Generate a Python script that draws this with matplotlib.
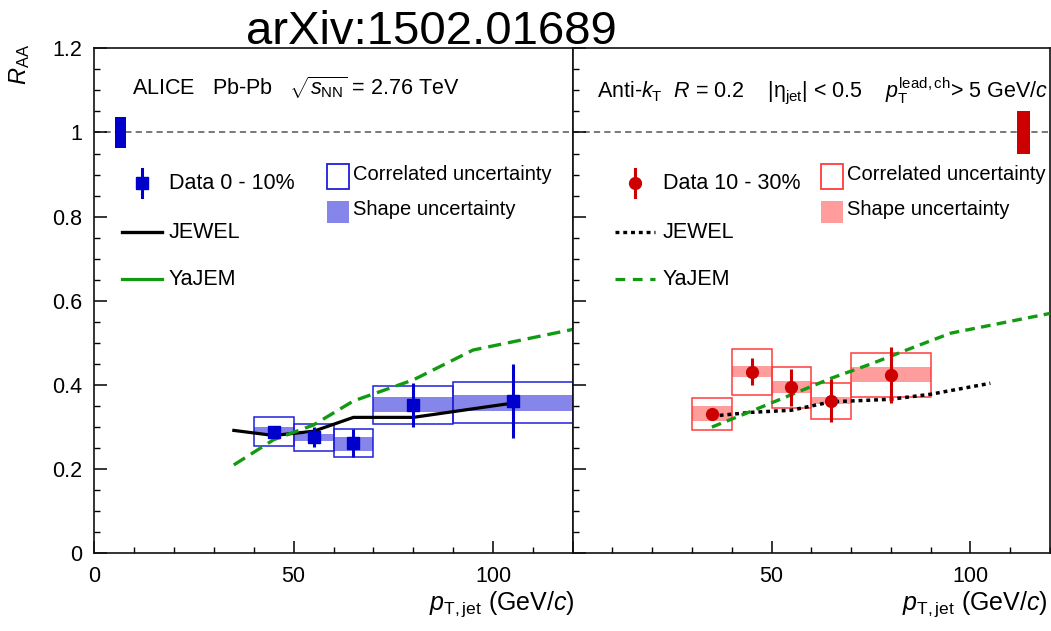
import numpy as np
import matplotlib
matplotlib.use("Agg")
import matplotlib.pyplot as plt
from matplotlib.patches import Rectangle

plt.rcParams['font.family'] = ['Liberation Sans', 'DejaVu Sans']
plt.rcParams['mathtext.fontset'] = 'custom'
plt.rcParams['mathtext.rm'] = 'Liberation Sans'
plt.rcParams['mathtext.it'] = 'Liberation Sans:italic'
plt.rcParams['mathtext.bf'] = 'Liberation Sans:bold'
plt.rcParams['lines.scale_dashes'] = False

# ---------------- data ----------------
# 0-10% centrality
c1_pt = np.array([45, 55, 65, 80, 105])
c1_width = np.array([10, 10, 10, 20, 30])
c1_raa = np.array([0.289, 0.276, 0.262, 0.353, 0.361])
c1_stat = np.array([0.012, 0.024, 0.034, 0.052, 0.088])
c1_corr_lo = np.array([0.254, 0.243, 0.228, 0.307, 0.309])
c1_corr_hi = np.array([0.323, 0.308, 0.296, 0.398, 0.408])
c1_shape_lo = np.array([0.284, 0.268, 0.244, 0.335, 0.339])
c1_shape_hi = np.array([0.300, 0.284, 0.276, 0.371, 0.377])
c1_global = 0.036

jewel1_pt = np.array([35, 45, 55, 65, 80, 105])
jewel1_raa = np.array([0.292, 0.280, 0.290, 0.323, 0.323, 0.357])
yajem1_pt = np.array([35, 45, 55, 65, 80, 95, 120])
yajem1_raa = np.array([0.210, 0.270, 0.305, 0.362, 0.412, 0.483, 0.532])

# 10-30% centrality
c2_pt = np.array([35, 45, 55, 65, 80])
c2_width = np.array([10, 10, 10, 10, 20])
c2_raa = np.array([0.331, 0.432, 0.394, 0.363, 0.424])
c2_stat = np.array([0.008, 0.032, 0.044, 0.052, 0.066])
c2_corr_lo = np.array([0.292, 0.377, 0.345, 0.319, 0.372])
c2_corr_hi = np.array([0.369, 0.485, 0.443, 0.404, 0.477])
c2_shape_lo = np.array([0.314, 0.418, 0.382, 0.355, 0.406])
c2_shape_hi = np.array([0.349, 0.446, 0.409, 0.372, 0.443])
c2_global = 0.051

jewel2_pt = np.array([35, 45, 55, 65, 80, 90, 105])
jewel2_raa = np.array([0.326, 0.335, 0.340, 0.360, 0.366, 0.378, 0.404])
yajem2_pt = np.array([35, 45, 55, 65, 75, 85, 95, 120])
yajem2_raa = np.array([0.300, 0.338, 0.377, 0.416, 0.450, 0.487, 0.523, 0.570])

xticks = [0, 50, 100]
yticks = [0, 0.2, 0.4, 0.6, 0.8, 1.0, 1.2]
ytick_labels = ["0", "0.2", "0.4", "0.6", "0.8", "1", "1.2"]

# ---------------- style ----------------
BLUE = '#0000cc'
BLUE_BOX = '#2020dd'
BLUE_BAND = '#8585ea'
RED = '#cc0000'
RED_BOX = '#ff3c3c'
RED_BAND = '#ff9c9c'
GREEN = '#129a12'
FS = 15.5

W, H = 1051, 631
fig = plt.figure(figsize=(W / 100, H / 100), dpi=100)
axL = fig.add_axes([94.3 / W, 1 - 553.3 / H, 478.4 / W, 505 / H])
axR = fig.add_axes([572.7 / W, 1 - 553.3 / H, 477.3 / W, 505 / H])

for ax in (axL, axR):
    ax.set_xlim(0, 120)
    ax.set_ylim(0, 1.2)
    ax.set_xticks(xticks)
    ax.set_xticks(np.arange(0, 121, 10), minor=True)
    ax.set_yticks(yticks)
    ax.set_yticks(np.arange(0, 1.201, 0.05), minor=True)
    ax.tick_params(which='both', direction='in', top=False, right=False,
                   labelsize=FS, pad=9)
    ax.tick_params(which='major', length=9, width=1.1)
    ax.tick_params(which='minor', length=4.5, width=1.0)
    for s in ax.spines.values():
        s.set_linewidth(1.2)
        s.set_color('#111111')
    ax.axhline(1.0, color='#555555', lw=1.1, ls=(0, (4.5, 3.0)), zorder=1)

axL.set_yticklabels(ytick_labels)
axL.set_xticklabels(["0", "50", "100"])
axR.set_yticklabels([])
axR.set_xticklabels(["", "50", "100"])

xlab = r'$p_{\rm T,jet}$ (GeV/$c$)'
axL.set_xlabel(xlab, fontsize=18, loc='right')
axL.xaxis.set_label_coords(1.005, -0.072)
axR.set_xlabel(xlab, fontsize=18, loc='right')
axR.xaxis.set_label_coords(0.996, -0.072)
fig.text(20 / W, 1 - 44 / H, r'$R_{\rm AA}$', rotation=90, fontsize=17,
         ha='center', va='top')

fig.text(431 / W, 1 - 44 / H, 'arXiv:1502.01689', fontsize=34,
         ha='center', va='baseline')


def draw_panel(ax, pt, width, raa, stat, clo, chi, slo, shi, col, boxcol,
               bandcol, marker, ms):
    ax.bar(pt, shi - slo, bottom=slo, width=width, color=bandcol,
           edgecolor='none', zorder=2)
    ax.bar(pt, chi - clo, bottom=clo, width=width, fill=False,
           edgecolor=boxcol, linewidth=1.1, zorder=3)
    ax.errorbar(pt, raa, yerr=stat, fmt=marker, color=col, ms=ms,
                elinewidth=2.2, capsize=0, zorder=6)


draw_panel(axL, c1_pt, c1_width, c1_raa, c1_stat, c1_corr_lo, c1_corr_hi,
           c1_shape_lo, c1_shape_hi, BLUE, BLUE_BOX, BLUE_BAND, 's', 8.5)
draw_panel(axR, c2_pt, c2_width, c2_raa, c2_stat, c2_corr_lo, c2_corr_hi,
           c2_shape_lo, c2_shape_hi, RED, RED_BOX, RED_BAND, 'o', 8.5)

axL.plot(jewel1_pt, jewel1_raa, color='black', lw=2.3, zorder=5)
axL.plot(yajem1_pt, yajem1_raa, color=GREEN, lw=2.4, ls=(0, (9.5, 5.0)),
         zorder=5)
axR.plot(jewel2_pt, jewel2_raa, color='black', lw=2.5, ls=(0, (2.8, 2.8)),
         zorder=5)
axR.plot(yajem2_pt, yajem2_raa, color=GREEN, lw=2.4, ls=(0, (7.0, 4.5)),
         zorder=5)

# global normalisation uncertainty boxes
axL.bar([6.6], [2 * c1_global], bottom=[1 - c1_global], width=2.8,
        color=BLUE, zorder=4)
axR.bar([113.4], [2 * c2_global], bottom=[1 - c2_global], width=3.3,
        color=RED, zorder=4)

# header texts
axL.text(0.079, 0.921, r'ALICE   Pb-Pb   $\sqrt{s_{\rm NN}}$ = 2.76 TeV',
         transform=axL.transAxes, fontsize=FS, ha='left', va='center')
axR.text(0.051, 0.917,
         r'Anti-$k_{\rm T}$  $R$ = 0.2    |η$_{\rm jet}$| < 0.5    '
         r'$p_{\rm T}^{\rm lead,ch}$> 5 GeV/$c$',
         transform=axR.transAxes, fontsize=FS, ha='left', va='center')


# legends (drawn in axes fraction)
def legend(ax, xm, xt, lab, col, marker, ms, jewel_ls, yajem_ls, xbox, xbt,
           boxcol, bandcol):
    tr = ax.transAxes
    ya, yj, yy = 0.733, 0.636, 0.543
    ax.plot([xm, xm], [ya - 0.028, ya + 0.028], color=col, lw=2.2,
            transform=tr, clip_on=False)
    ax.plot([xm], [ya], marker=marker, ms=ms, color=col, transform=tr,
            clip_on=False)
    ax.text(xt, ya, lab, transform=tr, fontsize=FS, va='center')
    ax.plot([xm - 0.041, xm + 0.041], [yj, yj], color='black', lw=2.4,
            ls=jewel_ls, transform=tr)
    ax.text(xt, yj, 'JEWEL', transform=tr, fontsize=FS, va='center')
    ax.plot([xm - 0.041, xm + 0.041], [yy, yy], color=GREEN, lw=2.3,
            ls=yajem_ls, transform=tr)
    ax.text(xt, yy, 'YaJEM', transform=tr, fontsize=FS, va='center')
    ax.add_patch(Rectangle((xbox, 0.721), 0.046, 0.050, fill=False,
                           edgecolor=boxcol, lw=1.3, transform=tr))
    ax.text(xbt, 0.751, 'Correlated uncertainty', transform=tr,
            fontsize=FS - 1, va='center')
    ax.add_patch(Rectangle((xbox, 0.654), 0.046, 0.044, color=bandcol,
                           lw=0, transform=tr))
    ax.text(xbt, 0.680, 'Shape uncertainty', transform=tr,
            fontsize=FS - 1, va='center')


legend(axL, 0.0997, 0.156, 'Data 0 - 10%', BLUE, 's', 8.5, '-', '-',
       0.486, 0.541, BLUE_BOX, BLUE_BAND)
legend(axR, 0.1305, 0.189, 'Data 10 - 30%', RED, 'o', 8.5, (0, (2.8, 2.8)),
       (0, (7.0, 5.5)), 0.520, 0.575, RED_BOX, RED_BAND)

fig.savefig('out.png', dpi=100)
